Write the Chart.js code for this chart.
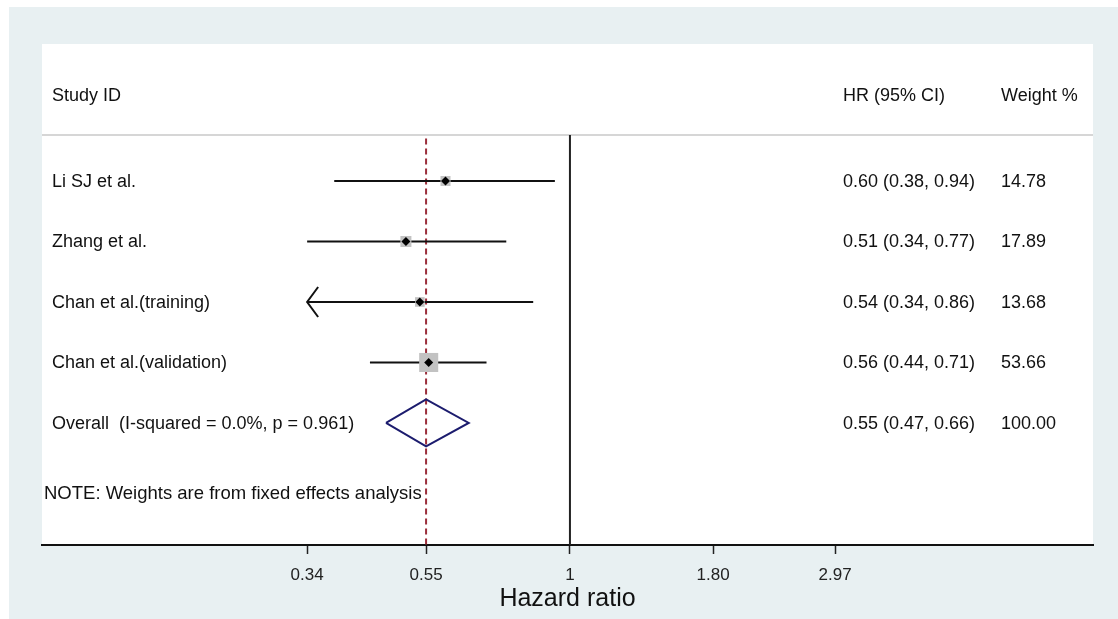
<!DOCTYPE html>
<html>
<head>
<meta charset="utf-8">
<title>Forest plot</title>
<script src="https://cdn.jsdelivr.net/npm/chart.js@4.4.0/dist/chart.umd.min.js"></script>
<style>
  html, body { margin: 0; padding: 0; background: #fff; }
  canvas { display: block; }
</style>
</head>
<body>
<canvas id="forest" width="1118" height="619"></canvas>
<script>
// study data (hazard ratios, 95% CI, fixed-effect weights)
const studies = ['Li SJ et al.', 'Zhang et al.', 'Chan et al.(training)', 'Chan et al.(validation)'];
const hr = [0.60, 0.51, 0.54, 0.56];
const ciLow = [0.38, 0.34, 0.34, 0.44];
const ciHigh = [0.94, 0.77, 0.86, 0.71];
const weights = [14.78, 17.89, 13.68, 53.66];
const lowArrow = [false, false, true, false];

const overallLabel = 'Overall  (I-squared = 0.0%, p = 0.961)';
const overallHr = 0.554;
const overallLow = 0.47;
const overallHigh = 0.66;
const overallWeight = 100.00;

const xTicks = [0.34, 0.554, 1, 1.80, 2.97];
const xTickLabels = ['0.34', '0.55', '1', '1.80', '2.97'];

// row layout (y units = rows)
const Y_MIN = -1.264, Y_MAX = 7.017;
const HEADER_ROW = -0.405, SEP_ROW = 0.24, NOTE_ROW = 6.157;
const OVERALL_ROW = studies.length + 1;
const DIAMOND_H = 0.388;

const FONT = '"Liberation Sans", Arial, sans-serif';
const fmt = v => v.toFixed(2);

const ciSets = studies.map((s, i) => ({
    data: [{x: ciLow[i], y: i + 1}, {x: ciHigh[i], y: i + 1}],
    showLine: true,
    borderColor: '#111',
    borderWidth: 2,
    pointRadius: 0,
    order: 3
}));

const forestDecor = {
    id: 'forestDecor',
    beforeDraw(chart) {
        const {ctx, chartArea: a} = chart;
        ctx.save();
        ctx.fillStyle = '#ffffff';
        ctx.fillRect(0, 0, chart.width, chart.height);
        ctx.fillStyle = '#e8f0f2';
        ctx.fillRect(9, 7, chart.width - 9, chart.height - 7);
        ctx.fillStyle = '#ffffff';
        ctx.fillRect(a.left, a.top, a.right - a.left, a.bottom - a.top);
        // header separator
        const ys = chart.scales.y.getPixelForValue(SEP_ROW);
        ctx.strokeStyle = '#c8c8c8';
        ctx.lineWidth = 1.5;
        ctx.beginPath();
        ctx.moveTo(a.left, ys);
        ctx.lineTo(a.right, ys);
        ctx.stroke();
        ctx.restore();
    },
    afterDraw(chart) {
        const {ctx, chartArea: a} = chart;
        const x = chart.scales.x, y = chart.scales.y;
        ctx.save();
        // arrows for clipped intervals
        ctx.strokeStyle = '#111';
        ctx.lineWidth = 2;
        lowArrow.forEach((on, i) => {
            if (!on) return;
            const px = x.getPixelForValue(ciLow[i]);
            const py = y.getPixelForValue(i + 1);
            ctx.beginPath();
            ctx.moveTo(px + 11, py - 15);
            ctx.lineTo(px, py);
            ctx.lineTo(px + 11, py + 15);
            ctx.stroke();
        });
        // text columns
        ctx.fillStyle = '#111';
        ctx.font = '18px ' + FONT;
        ctx.textBaseline = 'middle';
        ctx.textAlign = 'left';
        const colName = 52, colHr = 843, colW = 1001;
        let py = y.getPixelForValue(HEADER_ROW);
        ctx.fillText('Study ID', colName, py);
        ctx.fillText('HR (95% CI)', colHr, py);
        ctx.fillText('Weight %', colW, py);
        studies.forEach((s, i) => {
            const ry = y.getPixelForValue(i + 1) + 1;
            ctx.fillText(s, colName, ry);
            ctx.fillText(fmt(hr[i]) + ' (' + fmt(ciLow[i]) + ', ' + fmt(ciHigh[i]) + ')', colHr, ry);
            ctx.fillText(fmt(weights[i]), colW, ry);
        });
        py = y.getPixelForValue(OVERALL_ROW) + 1;
        ctx.fillText(overallLabel, colName, py);
        ctx.fillText(fmt(overallHr) + ' (' + fmt(overallLow) + ', ' + fmt(overallHigh) + ')', colHr, py);
        ctx.fillText(fmt(overallWeight), colW, py);
        ctx.font = '18.5px ' + FONT;
        ctx.fillText('NOTE: Weights are from fixed effects analysis', a.left + 2, y.getPixelForValue(NOTE_ROW) + 1);
        ctx.restore();
    }
};

new Chart(document.getElementById('forest'), {
    type: 'scatter',
    data: {
        datasets: [
            ...ciSets,
            {
                data: hr.map((v, i) => ({x: v, y: i + 1})),
                pointStyle: 'rect',
                pointRadius: weights.map(w => 2.6 * Math.sqrt(w) / Math.SQRT2),
                backgroundColor: '#c2c2c2',
                borderWidth: 0,
                order: 1
            },
            {
                data: hr.map((v, i) => ({x: v, y: i + 1})),
                pointStyle: 'rectRot',
                pointRadius: 4.5,
                backgroundColor: '#000',
                borderWidth: 0,
                order: 0
            },
            {
                data: [
                    {x: overallLow, y: OVERALL_ROW},
                    {x: overallHr, y: OVERALL_ROW - DIAMOND_H},
                    {x: overallHigh, y: OVERALL_ROW},
                    {x: overallHr, y: OVERALL_ROW + DIAMOND_H},
                    {x: overallLow, y: OVERALL_ROW}
                ],
                showLine: true,
                borderColor: '#1c1c6e',
                borderWidth: 2,
                pointRadius: 0,
                order: 2
            },
            {
                data: [{x: 1, y: SEP_ROW}, {x: 1, y: Y_MAX}],
                showLine: true,
                borderColor: '#222',
                borderWidth: 2,
                pointRadius: 0,
                order: 4
            },
            {
                data: [{x: overallHr, y: SEP_ROW + 0.06}, {x: overallHr, y: Y_MAX}],
                showLine: true,
                borderColor: '#9b2d3a',
                borderDash: [6, 4],
                borderWidth: 2,
                pointRadius: 0,
                order: 4
            }
        ]
    },
    options: {
        responsive: false,
        animation: false,
        events: [],
        layout: {
            padding: {left: 42, top: 44, right: 25, bottom: 0}
        },
        scales: {
            x: {
                type: 'logarithmic',
                min: 0.1145,
                max: 8.56,
                afterBuildTicks: s => { s.ticks = xTicks.map(v => ({value: v})); },
                afterFit: s => { s.height = 74; },
                ticks: {
                    callback: (v, i) => xTickLabels[i],
                    font: {family: FONT, size: 17},
                    color: '#222',
                    padding: 11,
                    maxRotation: 0,
                    autoSkip: false
                },
                grid: {
                    drawOnChartArea: false,
                    drawTicks: true,
                    tickLength: 9,
                    tickWidth: 1.5,
                    tickColor: '#222'
                },
                border: {
                    display: true,
                    color: '#111',
                    width: 2
                },
                title: {
                    display: true,
                    text: 'Hazard ratio',
                    font: {family: FONT, size: 25},
                    color: '#111',
                    padding: {top: 0, bottom: 5}
                }
            },
            y: {
                type: 'linear',
                display: false,
                reverse: true,
                min: Y_MIN,
                max: Y_MAX
            }
        },
        plugins: {
            legend: {display: false},
            tooltip: {enabled: false}
        }
    },
    plugins: [forestDecor]
});
</script>
</body>
</html>
